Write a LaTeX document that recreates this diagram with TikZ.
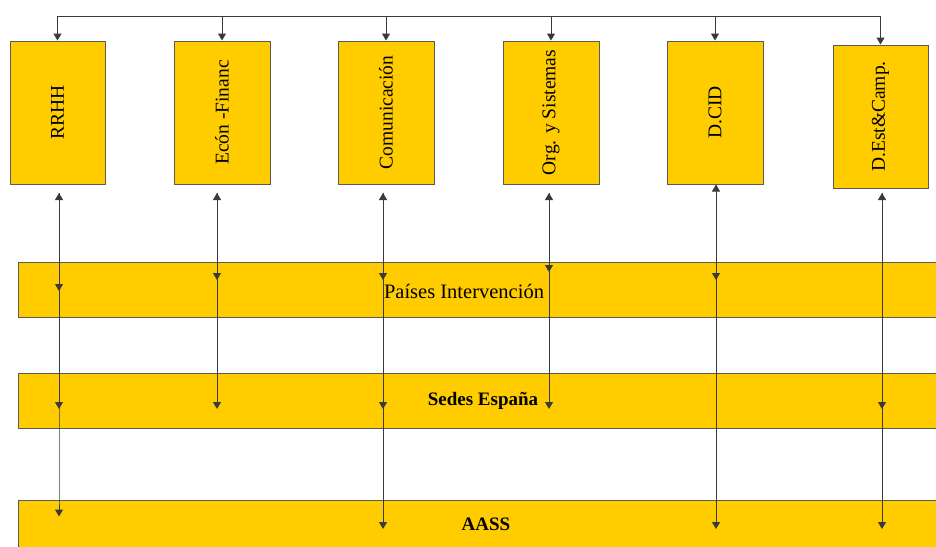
\documentclass[tikz,border=0pt]{standalone}
\usepackage{fontspec}
\setmainfont{Liberation Serif}
\usetikzlibrary{arrows.meta}
\definecolor{gold}{HTML}{FFCC00}
\definecolor{edge}{HTML}{5A5A5A}
\definecolor{wire}{HTML}{3A3A3A}
\begin{document}
\begin{tikzpicture}[x=1pt,y=-1pt,
  dept/.style={draw=edge,line width=1pt,fill=gold,minimum width=95pt,minimum height=143pt,inner sep=0pt,
    font=\fontsize{19.5}{20}\selectfont},
  band/.style={draw=edge,line width=1pt,fill=gold,minimum width=942pt,inner sep=0pt},
  bandtxt/.style={inner sep=0pt,font=\fontsize{20.5}{21}\selectfont},
  wirel/.style={draw=wire,line width=1pt},
  tip/.style={-{Triangle[length=7pt,width=8pt]}},
  tips/.style={{Triangle[length=7pt,width=8pt]}-{Triangle[length=7pt,width=8pt]}}]
\clip (0,0) rectangle (936,546);
\fill[white] (0,0) rectangle (936,546);

% bands
\node[band,minimum height=55pt] (paises) at (489,289.5) {};
\node[band,minimum height=55pt] (sedes) at (489,400.5) {};
\node[band,minimum height=60pt] (aass) at (489,530) {};
\node[bandtxt] (paisesT) at (464,291) {Países Intervención};
\node[bandtxt,font=\fontsize{19}{20}\selectfont\bfseries] (sedesT) at (483,401) {Sedes España};
\node[bandtxt,font=\fontsize{19}{20}\selectfont\bfseries] (aassT) at (486,524) {AASS};

% departments
\node[dept] (b1) at (57.5,112.5) {\rotatebox{90}{RRHH}};
\node[dept,minimum width=96pt] (b2) at (222,112.5) {\rotatebox{90}{Ecón -Financ}};
\node[dept,minimum width=96pt] (b3) at (386,112.5) {\rotatebox{90}{Comunicación}};
\node[dept,minimum width=96pt] (b4) at (551,112.5) {\rotatebox{90}{Org. y Sistemas}};
\node[dept,minimum width=96pt] (b5) at (715,112.5) {\rotatebox{90}{D.CID}};
\node[dept] (b6) at (880.5,116.5) {\rotatebox{90}{D.Est\&Camp.}};

% top bus
\coordinate (busL) at (57.5,16);
\coordinate (busR) at (880.5,16);
\draw[wirel] (busL) -- (busR);
\foreach \b in {b1,b2,b3,b4,b5,b6}
  \draw[wirel,tip] (\b.north |- busL) -- (\b.north);

% vertical links: line 1
\coordinate (t1) at (59,193);
\draw[wirel,tips] (t1) -- (t1 |- aass.north) -- ++(0,17);
\draw[wirel,tip] (t1) -- ([yshift=-1.5pt]t1 |- paises.center);
\draw[wirel,tip] (t1) -- ([yshift=-8.5pt]t1 |- sedes.center);
% line 2
\coordinate (t2) at (217,193);
\draw[wirel,tips] (t2) -- ([yshift=-8.5pt]t2 |- sedes.center);
\draw[wirel,tip] (t2) -- ([yshift=9.5pt]t2 |- paises.center);
% line 3
\coordinate (t3) at (383,193);
\draw[wirel,tips] (t3) -- ([yshift=-5pt]t3 |- aassT);
\draw[wirel,tip] (t3) -- ([yshift=9.5pt]t3 |- paises.center);
\draw[wirel,tip] (t3) -- ([yshift=-8.5pt]t3 |- sedes.center);
% line 4
\coordinate (t4) at (549,193);
\draw[wirel,tips] (t4) -- ([yshift=-8.5pt]t4 |- sedes.center);
\draw[wirel,tip] (t4) -- ([yshift=17.5pt]t4 |- paises.center);
% line 5
\draw[wirel,tips] (b5.south -| 716,0) -- ([yshift=-5pt]716,0 |- aassT);
\draw[wirel,tip] (b5.south -| 716,0) -- ([yshift=9.5pt]716,0 |- paises.center);
% line 6
\coordinate (t6) at (882,193);
\draw[wirel,tips] (t6) -- ([yshift=-5pt]t6 |- aassT);
\draw[wirel,tip] (t6) -- ([yshift=-8.5pt]t6 |- sedes.center);
\end{tikzpicture}
\end{document}
